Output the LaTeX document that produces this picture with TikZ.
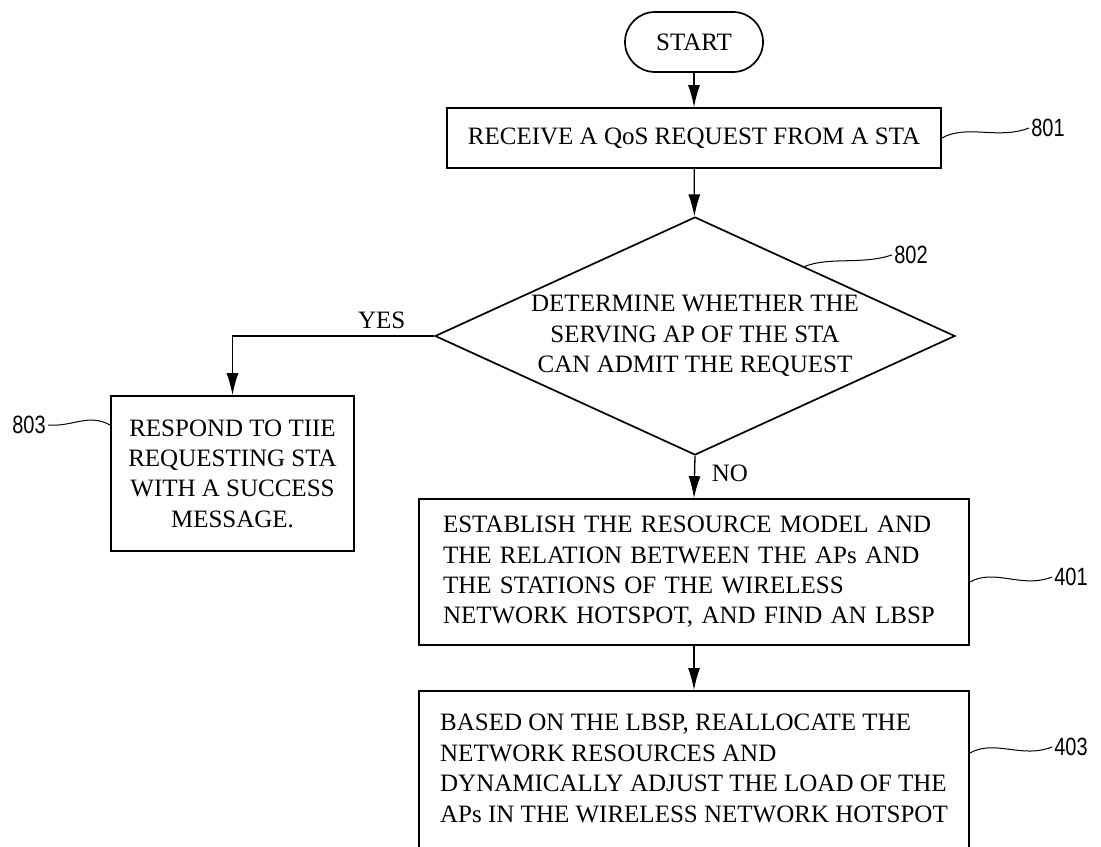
\documentclass[tikz,border=0pt]{standalone}
\usepackage{fontspec}
\setmainfont{Liberation Serif}
\newfontfamily\refnum[FakeStretch=0.8]{Liberation Sans}
\usetikzlibrary{shapes.geometric,arrows.meta,calc}
\begin{document}
\begin{tikzpicture}[x=0.5pt,y=-0.5pt]
\tikzstyle{every node}+=[font=\fontsize{12.5}{15.2}\selectfont]
\tikzstyle{box}=[draw,line width=0.85pt,inner sep=0pt]
\tikzstyle{arr}=[line width=0.65pt,-{Latex[length=11pt,width=6pt]}]
\tikzstyle{lead}=[line width=0.5pt]
\tikzstyle{num}=[font=\refnum\fontsize{12.5}{15}\selectfont,inner sep=1pt]
\clip (0,0) rectangle (1101,846);
\node [box,rounded corners=15pt,minimum width=69pt,minimum height=30pt] (start) at (694,42) {START};
\node [box,minimum width=247pt,minimum height=30pt] (s801) at (694,138) {RECEIVE A QoS REQUEST FROM A STA};
\node [box,diamond,aspect=2.2,minimum width=260pt,minimum height=119pt,align=center] (s802) at (695,336) {DETERMINE WHETHER THE\\SERVING AP OF THE STA\\CAN ADMIT THE REQUEST};
\node [box,minimum width=121.5pt,minimum height=77.5pt,align=center] (s803) at (232.5,473.5) {RESPOND TO TIIE\\REQUESTING STA\\ WITH A SUCCESS\\MESSAGE.};
\node [box,text width=251pt,inner xsep=12pt,minimum height=73pt,align=left] (s401) at (694,572) {ESTABLISH THE RESOURCE MODEL AND\\THE RELATION BETWEEN THE APs AND\\THE STATIONS OF THE WIRELESS\\NETWORK HOTSPOT, AND FIND AN LBSP};
\node [box,anchor=north,minimum width=275pt,inner ysep=11.75pt,align=left] (s403) at (694,690) {BASED ON THE LBSP, REALLOCATE THE\\NETWORK RESOURCES AND\\DYNAMICALLY ADJUST THE LOAD OF THE\\APs IN THE WIRELESS NETWORK HOTSPOT\\ \mbox{}};
\node [num] (n801) at (1048,128) {801};
\node [num] (n802) at (911,255) {802};
\node [num] (n803) at (29,425) {803};
\node [num] (n401) at (1071,577) {401};
\node [num] (n403) at (1071,747) {403};
\draw [arr] (start) -- (s801);
\draw [arr] (s801) -- (s802);
\draw [arr] (s802.west) -| (s803.north) node [pos=0.13,above] {YES};
\draw [arr] (s802.south) -- (s401.north) node [pos=0.42,right=5pt] {NO};
\draw [arr] (s401) -- (s403);
\draw [lead] (s801.east) .. controls +(25,-14) and +(-30,12) .. (n801.west);
\draw [lead] ($(s802.north)!0.42!(s802.east)$) .. controls +(25,-10) and +(-30,10) .. (n802.west);
\draw [lead] (n803.east) .. controls +(25,2) and +(-22,-12) .. (s803.west |- n803);
\draw [lead] ($(s401.east)+(0,10)$) .. controls +(25,-14) and +(-30,12) .. (n401.west);
\draw [lead] ($(s403.north east)+(0,63)$) .. controls +(25,-14) and +(-30,12) .. (n403.west);
\end{tikzpicture}
\end{document}
